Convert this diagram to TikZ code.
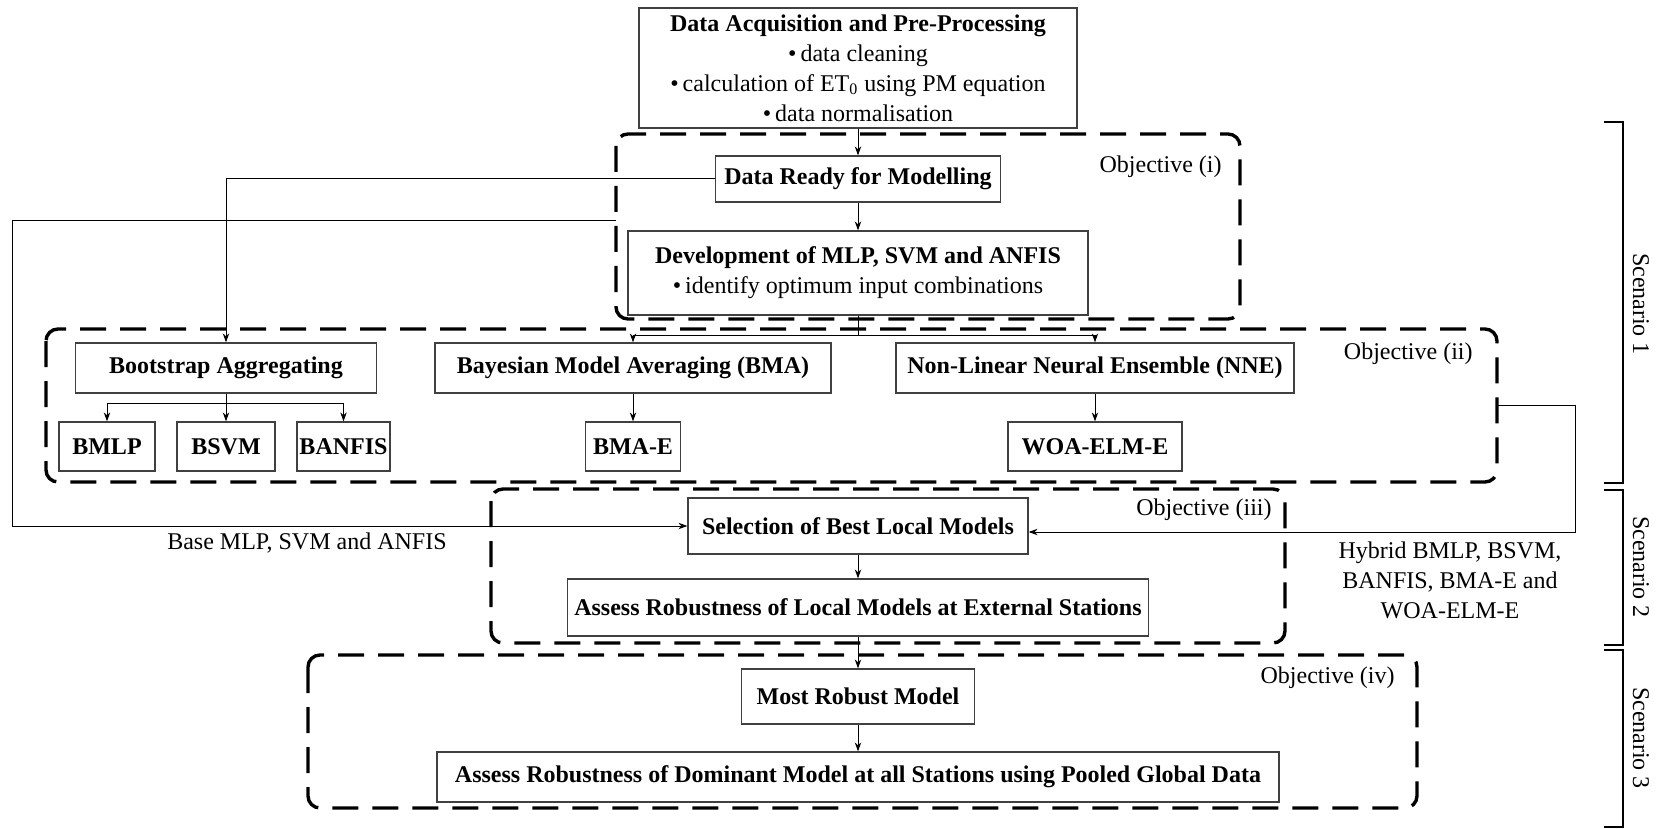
\documentclass[tikz,border=0pt]{standalone}
\usepackage{fontspec}
\setmainfont{Liberation Serif}
\usetikzlibrary{arrows.meta}
\begin{document}
\fontsize{12}{15}\selectfont
\begin{tikzpicture}[x=0.5pt,y=-0.5pt,
  box/.style={draw=black!75, line width=0.6pt, inner sep=0pt, align=center},
  bbox/.style={box, font=\bfseries},
  conn/.style={line width=0.5pt, -{Stealth[length=4.5pt,width=3.2pt]}},
  plain/.style={line width=0.5pt},
  group/.style={draw, line width=1.7pt, dash pattern=on 13pt off 7pt, rounded corners=6pt},
  objlabel/.style={anchor=east, inner sep=0pt},
  brack/.style={line width=0.9pt},
  scen/.style={rotate=-90, inner sep=0pt}]
\useasboundingbox (0,0) rectangle (1662,829);

% dashed objective groups
\draw[group] (616,134) rectangle (1240,319);
\draw[group] (46,329) rectangle (1497,482);
\draw[group] (491,489) rectangle (1285,643);
\draw[group] (308,655) rectangle (1417,808);

\node[objlabel] (obj1) at (1222,167) {Objective (i)};
\node[objlabel] (obj2) at (1473,354) {Objective (ii)};
\node[objlabel] (obj3) at (1272,510) {Objective (iii)};
\node[objlabel] (obj4) at (1395,678) {Objective (iv)};

% boxes
\node[box, minimum width=219pt, minimum height=60pt] (acq) at (858,68)
  {\textbf{Data Acquisition and Pre-Processing}\\
   \textbullet\,data cleaning\\
   \textbullet\,calculation of ET\textsubscript{0} using PM equation\\
   \textbullet\,data normalisation};
\node[bbox, minimum width=142.5pt, minimum height=23pt] (ready) at (858,179) {Data Ready for Modelling};
\node[box, minimum width=230pt, minimum height=42pt] (dev) at (858,273)
  {\textbf{Development of MLP, SVM and ANFIS}\\
   \textbullet\,identify optimum input combinations};
\node[bbox, minimum width=150.5pt, minimum height=25pt] (boot) at (226,368) {Bootstrap Aggregating};
\node[bbox, minimum width=198pt, minimum height=25pt] (bma) at (633,368) {Bayesian Model Averaging (BMA)};
\node[bbox, minimum width=199pt, minimum height=25pt] (nne) at (1095,368) {Non-Linear Neural Ensemble (NNE)};
\node[bbox, minimum width=48pt, minimum height=24.5pt] (bmlp) at (107,446.5) {BMLP};
\node[bbox, minimum width=49pt, minimum height=24.5pt] (bsvm) at (226,446.5) {BSVM};
\node[bbox, minimum width=46.5pt, minimum height=24.5pt] (banfis) at (343.5,446.5) {BANFIS};
\node[bbox, minimum width=47.5pt, minimum height=24.5pt] (bmae) at (633,446.5) {BMA-E};
\node[bbox, minimum width=87pt, minimum height=24.5pt] (woa) at (1095,446.5) {WOA-ELM-E};
\node[bbox, minimum width=170pt, minimum height=28pt] (sel) at (858,526) {Selection of Best Local Models};
\node[bbox, minimum width=290.5pt, minimum height=28.5pt] (local) at (858,607.5) {Assess Robustness of Local Models at External Stations};
\node[bbox, minimum width=116.5pt, minimum height=27.5pt] (robust) at (858,696.5) {Most Robust Model};
\node[bbox, minimum width=421pt, minimum height=25pt] (dom) at (858,777) {Assess Robustness of Dominant Model at all Stations using Pooled Global Data};

% side labels
\node[inner sep=0pt] (baselab) at (307,543) {Base MLP, SVM and ANFIS};
\node[inner sep=0pt, align=center] (hyblab) at (1450,580) {Hybrid BMLP, BSVM,\\ BANFIS, BMA-E and\\ WOA-ELM-E};

% connectors
\draw[conn] (acq.south) -- (ready.north);
\draw[conn] (ready.south) -- (dev.north);
\draw[conn] (ready.west) -| (boot.north);
\coordinate (baseS) at (616,221);
\coordinate (baseL) at (12,221);
\draw[conn] (baseS) -- (baseL) |- (sel.west);
\coordinate (devsplit) at (858,335);
\draw[plain] (dev.south) -- (devsplit);
\draw[conn] (devsplit) -| (bma.north);
\draw[conn] (devsplit) -| (nne.north);
\coordinate (bootsplit) at (226,403);
\draw[plain] (boot.south) -- (bootsplit);
\draw[conn] (bootsplit) -| (bmlp.north);
\draw[conn] (bootsplit) -- (bsvm.north);
\draw[conn] (bootsplit) -| (banfis.north);
\draw[conn] (bma.south) -- (bmae.north);
\draw[conn] (nne.south) -- (woa.north);
\coordinate (hybS) at (1497,405);
\coordinate (hybR) at (1575,405);
\draw[conn] (hybS) -- (hybR) |- ([yshift=-3pt]sel.east);
\draw[conn] (sel.south) -- (local.north);
\draw[conn] (local.south) -- (robust.north);
\draw[conn] (robust.south) -- (dom.north);

% scenario brackets
\draw[brack] (1604,122) -- (1623,122) -- (1623,483) -- (1604,483);
\draw[brack] (1604,490) -- (1623,490) -- (1623,645) -- (1604,645);
\draw[brack] (1604,650) -- (1623,650) -- (1623,827) -- (1604,827);
\node[scen] (sc1) at (1641,304) {Scenario 1};
\node[scen] (sc2) at (1641,567) {Scenario 2};
\node[scen] (sc3) at (1641,738) {Scenario 3};
\end{tikzpicture}
\end{document}
